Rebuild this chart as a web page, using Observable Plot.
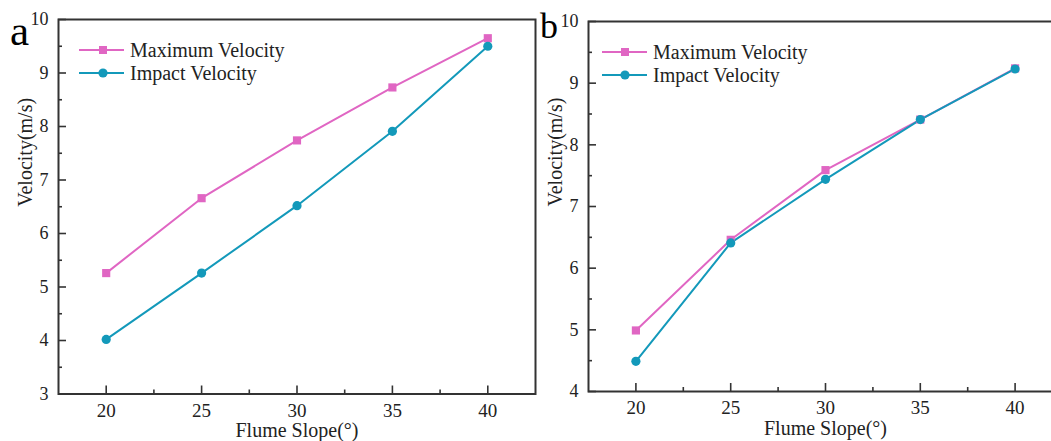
<!DOCTYPE html>
<html><head><meta charset="utf-8">
<script src="https://cdn.jsdelivr.net/npm/d3@7"></script>
<script src="https://cdn.jsdelivr.net/npm/@observablehq/plot@0.6"></script>
<style>
body{margin:0;background:#fff;}
#wrap{position:relative;width:1051px;height:441px;overflow:hidden;font-family:"Liberation Serif","Times New Roman",serif;}
.panel{position:absolute;top:0;}
#overlay{position:absolute;left:0;top:0;pointer-events:none;}
</style></head><body><div id="wrap"></div>
<script>
// ---- data ----
const slopes = [20, 25, 30, 35, 40];
const seriesNames = ["Maximum Velocity", "Impact Velocity"];
const maxA = [5.26, 6.66, 7.74, 8.73, 9.65];
const impA = [4.02, 5.26, 6.52, 7.91, 9.50];
const maxB = [4.99, 6.46, 7.59, 8.41, 9.24];
const impB = [4.49, 6.41, 7.44, 8.41, 9.23];
const xTicks = [20, 25, 30, 35, 40];
const xMinor = [22.5, 27.5, 32.5, 37.5];
const yTicksA = [3, 4, 5, 6, 7, 8, 9, 10];
const yMinorA = [3.5, 4.5, 5.5, 6.5, 7.5, 8.5, 9.5];
const yTicksB = [4, 5, 6, 7, 8, 9, 10];
const yMinorB = [4.5, 5.5, 6.5, 7.5, 8.5, 9.5];
const panelLetters = ["a", "b"];
const xLabel = "Flume Slope(°)";
const yLabel = "Velocity(m/s)";
const colors = ["#E066C3", "#1399BA"];

const FONT = '"Liberation Serif","Times New Roman",serif';
const AXIS = "#333";

function makePanel({maxV, impV, yDomain, yTicks, yMinor, width, height, mt, mb, ml, mr}) {
  const rows = [];
  slopes.forEach((s, i) => {
    rows.push({x: s, y: maxV[i], series: seriesNames[0]});
    rows.push({x: s, y: impV[i], series: seriesNames[1]});
  });
  const pw = width - ml - mr, ph = height - mt - mb;
  return Plot.plot({
    width, height, marginTop: mt, marginBottom: mb, marginLeft: ml, marginRight: mr,
    style: {fontFamily: FONT, fontSize: "18px", color: "#222", background: "transparent", overflow: "visible"},
    x: {domain: [17.5, 42.5]},
    y: {domain: yDomain},
    color: {domain: seriesNames, range: colors},
    marks: [
      Plot.line(rows, {x: "x", y: "y", z: "series", stroke: "series", strokeWidth: 2}),
      Plot.dot(rows.filter(d => d.series === seriesNames[0]), {x: "x", y: "y", symbol: "square", r: 4.6, fill: "series", stroke: "none"}),
      Plot.dot(rows.filter(d => d.series === seriesNames[1]), {x: "x", y: "y", symbol: "circle", r: 4.6, fill: "series", stroke: "none"}),
      Plot.tickY(yTicks, {y: d => d, stroke: AXIS, strokeWidth: 1.6, insetRight: pw - 8}),
      Plot.tickY(yMinor, {y: d => d, stroke: AXIS, strokeWidth: 1.6, insetRight: pw - 4}),
      Plot.tickX(xTicks, {x: d => d, stroke: AXIS, strokeWidth: 1.6, insetTop: ph - 8}),
      Plot.tickX(xMinor, {x: d => d, stroke: AXIS, strokeWidth: 1.6, insetTop: ph - 4}),
      Plot.frame({stroke: AXIS, strokeWidth: 2}),
      Plot.axisX({ticks: xTicks, tickSize: 0, tickPadding: 9, tickFormat: d => d, label: null, fontSize: 19, fill: "#222"}),
      Plot.axisY({ticks: yTicks, tickSize: 0, tickPadding: 10, tickFormat: d => d, label: null, fontSize: 18, fill: "#222"}),
      Plot.text([xLabel], {frameAnchor: "bottom", dy: 37, text: d => d, fontSize: 20, fill: "#222", lineAnchor: "middle"}),
      Plot.text([yLabel], {frameAnchor: "left", dx: -33, text: d => d, fontSize: 20, fill: "#222", rotate: -90, lineAnchor: "middle"})
    ]
  });
}

const wrap = document.getElementById("wrap");

const pa = makePanel({maxV: maxA, impV: impA, yDomain: [3, 10], yTicks: yTicksA, yMinor: yMinorA,
  width: 545, height: 441, mt: 19, mb: 47.5, ml: 58, mr: 10});
pa.classList.add("panel"); pa.style.left = "0px";
wrap.appendChild(pa);

const pb = makePanel({maxV: maxB, impV: impB, yDomain: [4, 10], yTicks: yTicksB, yMinor: yMinorB,
  width: 542, height: 441, mt: 21, mb: 50, ml: 58, mr: 10});
pb.classList.add("panel"); pb.style.left = "530px";
wrap.appendChild(pb);

// ---- legends and panel letters ----
const NS = "http://www.w3.org/2000/svg";
const ov = document.createElementNS(NS, "svg");
ov.setAttribute("id", "overlay");
ov.setAttribute("width", 1051); ov.setAttribute("height", 441);
wrap.appendChild(ov);
function el(tag, attrs, txt) {
  const e = document.createElementNS(NS, tag);
  for (const k in attrs) e.setAttribute(k, attrs[k]);
  if (txt != null) e.textContent = txt;
  ov.appendChild(e);
  return e;
}
const legends = [
  {x0: 79, x1: 124, mx: 103, tx: 130, ys: [50, 73]},
  {x0: 602, x1: 647, mx: 625, tx: 653, ys: [52, 75]}
];
legends.forEach(L => {
  seriesNames.forEach((name, i) => {
    const y = L.ys[i];
    el("line", {x1: L.x0, x2: L.x1, y1: y, y2: y, stroke: colors[i], "stroke-width": 2});
    if (i === 0) el("rect", {x: L.mx - 4, y: y - 4, width: 8, height: 8, fill: colors[i]});
    else el("circle", {cx: L.mx, cy: y, r: 4.6, fill: colors[i]});
    el("text", {x: L.tx, y: y + 6.5, "font-family": FONT, "font-size": 20, fill: "#222"}, name);
  });
});
el("text", {x: 10, y: 45, "font-family": FONT, "font-size": 43, fill: "#000"}, panelLetters[0]);
el("text", {x: 540, y: 38, "font-family": FONT, "font-size": 36, fill: "#000"}, panelLetters[1]);
</script></body></html>
